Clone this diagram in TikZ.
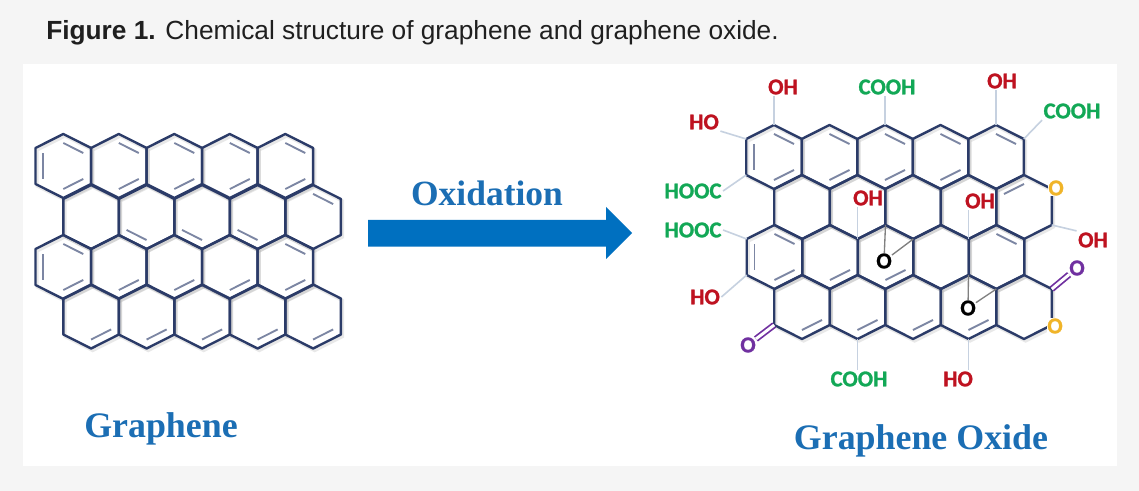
\documentclass[tikz,border=0pt]{standalone}
\usepackage{fontspec}
\setmainfont{Liberation Sans}
\newfontfamily\chemfont[BoldFeatures={FakeBold=1.2}]{Carlito}
\newfontfamily\headfont{Liberation Serif}
\usetikzlibrary{calc}
\definecolor{bondnavy}{HTML}{2B3B68}
\definecolor{innergrey}{HTML}{7C86A3}
\definecolor{linkblue}{HTML}{C6D1E0}
\definecolor{headblue}{HTML}{1B6EB4}
\definecolor{arrowblue}{HTML}{0070C0}
\definecolor{ohred}{HTML}{BE1220}
\definecolor{coohgreen}{HTML}{12A856}
\definecolor{ketopurple}{HTML}{7030A0}
\definecolor{etheryellow}{HTML}{F0B428}
\tikzset{
    bond/.style={draw=bondnavy, line width=1.8pt, line join=round},
    bondshade/.style={draw=black!45, line width=2.4pt, opacity=0.2, transform canvas={shift={(1.2pt,-1.5pt)}}},
    inner bond/.style={draw=innergrey, line width=1.4pt},
    link/.style={draw=linkblue, line width=1.2pt},
    epoxy/.style={draw=black!50, line width=1pt},
    keto/.style={draw=ketopurple, double=white, double distance=2.2pt, line width=1.3pt},
    chem/.style={font=\chemfont\bfseries\fontsize{17}{18}\selectfont, inner sep=1pt},
    oh/.style={chem, text=ohred},
    cooh/.style={chem, text=coohgreen},
    ether/.style={chem, text=etheryellow, fill=white, inner sep=0pt},
    ketoatom/.style={chem, text=ketopurple, fill=white, inner sep=0pt},
    epoxyatom/.style={chem, text=black, inner sep=0pt},
    head/.style={font=\headfont\bfseries\fontsize{26.9}{30}\selectfont, text=headblue, anchor=base},
}
\newcommand{\hexcell}[3]{
    \coordinate (#1) at (#2,#3);
    \coordinate (#1-t) at (#2,#3-32);
    \coordinate (#1-ur) at (#2+27.8,#3-18);
    \coordinate (#1-lr) at (#2+27.8,#3+18);
    \coordinate (#1-b) at (#2,#3+32);
    \coordinate (#1-ll) at (#2-27.8,#3+18);
    \coordinate (#1-ul) at (#2-27.8,#3-18);
    \path[bondshade] (#1-t) -- (#1-ur) -- (#1-lr) -- (#1-b) -- (#1-ll) -- (#1-ul) -- cycle;
    \path[bond] (#1-t) -- (#1-ur) -- (#1-lr) -- (#1-b) -- (#1-ll) -- (#1-ul) -- cycle;
}
\newcommand{\hexrow}[3]{
    \hexcell{#1-1}{#2}{#3}
    \hexcell{#1-2}{#2+55.5}{#3}
    \hexcell{#1-3}{#2+111}{#3}
    \hexcell{#1-4}{#2+166.5}{#3}
    \hexcell{#1-5}{#2+222}{#3}
}
\newcommand{\dblUR}[1]{\path[inner bond] ($(#1)!.72!(#1-t)$) -- ($(#1)!.72!(#1-ur)$);}
\newcommand{\dblLR}[1]{\path[inner bond] ($(#1)!.72!(#1-lr)$) -- ($(#1)!.72!(#1-b)$);}
\newcommand{\dblLL}[1]{\path[inner bond] ($(#1)!.72!(#1-b)$) -- ($(#1)!.72!(#1-ll)$);}
\newcommand{\dblUL}[1]{\path[inner bond] ($(#1)!.72!(#1-ul)$) -- ($(#1)!.72!(#1-t)$);}
\newcommand{\dblL}[1]{\path[inner bond] ($(#1)!.72!(#1-ll)$) -- ($(#1)!.72!(#1-ul)$);}
\begin{document}
\begin{tikzpicture}[x=0.75pt, y=-0.75pt]
    \fill[black!4] (0,0) rectangle (1139,491);
    \fill[white] (23,64) rectangle (1117,466.5);
    \node[anchor=base west, inner sep=0pt, text=black!88, font=\fontsize{19.7}{22}\selectfont] (caption) at (46,40) {\textbf{Figure 1.} Chemical structure of graphene and graphene oxide.};

    \hexrow{a1}{63.3}{166}
    \hexrow{a2}{91.1}{217}
    \hexrow{a3}{63.3}{267}
    \hexrow{a4}{91.1}{316.5}

    \dblUR{a1-1} \dblL{a1-1} \dblLR{a1-1}
    \dblUR{a1-2} \dblLR{a1-2}
    \dblUR{a1-3} \dblLR{a1-3}
    \dblUR{a1-4} \dblLR{a1-4}
    \dblUR{a1-5} \dblLR{a1-5}
    \dblLL{a2-2} \dblLL{a2-3} \dblLL{a2-4} \dblUR{a2-5}
    \dblUR{a3-1} \dblL{a3-1} \dblLR{a3-1}
    \dblLR{a3-2} \dblLR{a3-3} \dblLR{a3-4}
    \dblUR{a3-5} \dblLR{a3-5}
    \dblLR{a4-1} \dblLR{a4-2} \dblLR{a4-3} \dblLR{a4-4} \dblLR{a4-5}

    \hexrow{b1}{774}{157}
    \hexrow{b2}{802}{207}
    \hexrow{b3}{774.5}{257}
    \hexrow{b4}{802}{307}

    \dblUR{b1-1} \dblL{b1-1} \dblLR{b1-1}
    \dblUR{b1-2} \dblLR{b1-2}
    \dblUR{b1-3} \dblLR{b1-3}
    \dblUR{b1-4} \dblLR{b1-4}
    \dblUR{b1-5}
    \dblUL{b2-5}
    \dblUR{b3-1} \dblL{b3-1} \dblLR{b3-1}
    \dblLR{b3-2} \dblLR{b3-3} \dblUR{b3-5}
    \dblLR{b4-1} \dblLR{b4-2} \dblLR{b4-3} \dblLR{b4-4}

    \node[oh] (ohA) at (783,87) {OH};
    \node[cooh] (coohA) at (887,87) {COOH};
    \node[oh] (ohB) at (1002,81) {OH};
    \node[cooh] (coohB) at (1072,111) {COOH};
    \node[oh] (hoA) at (704,122) {HO};
    \node[cooh] (hoocA) at (693,191) {HOOC};
    \node[cooh] (hoocB) at (693,230) {HOOC};
    \node[oh] (hoB) at (705,297) {HO};
    \node[oh] (ohC) at (868,198) {OH};
    \node[oh] (ohD) at (980,201) {OH};
    \node[oh] (ohE) at (1093,240) {OH};
    \node[cooh] (coohC) at (859,379) {COOH};
    \node[oh] (hoC) at (958,379) {HO};

    \path[link]     (ohA.south -| b1-1-t) edge       (b1-1-t)
                    (coohA.south -| b1-3-t) edge     (b1-3-t)
                    (ohB.south -| b1-5-t) edge       (b1-5-t)
                    (coohB.south west) edge          (b1-5-ur)
                    (hoA.south east) edge            (b1-1-ul)
                    (hoocA.east) edge                (b1-1-ll)
                    (hoocB.east) edge                (b3-1-ul)
                    (hoB.east) edge                  (b3-1-ll)
                    (ohC.south -| b2-2-b) edge       (b2-2-b)
                    (ohD.south -| b2-4-b) edge       (b2-4-b)
                    (ohE.north west) edge            (b2-5-lr)
                    (coohC.north -| b4-2-b) edge     (b4-2-b)
                    (hoC.north -| b4-4-b) edge       (b4-4-b)
    ;
    \node[ether] (etherA) at (1056,188) {O};
    \node[ether] (etherB) at (1055,326) {O};
    \node[ketoatom] (ketoA) at (1077,268) {O};
    \node[ketoatom] (ketoB) at (748,345) {O};
    \node[epoxyatom] (epoxyA) at (884,261) {O};
    \node[epoxyatom] (epoxyB) at (968,308) {O};
    \path[epoxy]    (epoxyA) edge                    (b3-3-t)
                    (epoxyA) edge                    (b3-3-ur)
                    (epoxyB) edge                    (b4-4-t)
                    (epoxyB) edge                    (b4-4-ur)
    ;
    \draw[keto] (b4-5-ur) -- (ketoA);
    \draw[keto] (b4-1-ll) -- (ketoB);

    \fill[arrowblue] (368,220) -- (606,220) -- (606,207) -- (632,233) -- (606,259) -- (606,246.7) -- (368,246.7) -- cycle;
    \node[head, font=\headfont\bfseries\fontsize{26.6}{28}\selectfont] (oxidation) at (487,206) {Oxidation};
    \node[head] (graphene) at (161,438) {Graphene};
    \node[head] (grapheneoxide) at (921,450) {Graphene Oxide};
\end{tikzpicture}
\end{document}
